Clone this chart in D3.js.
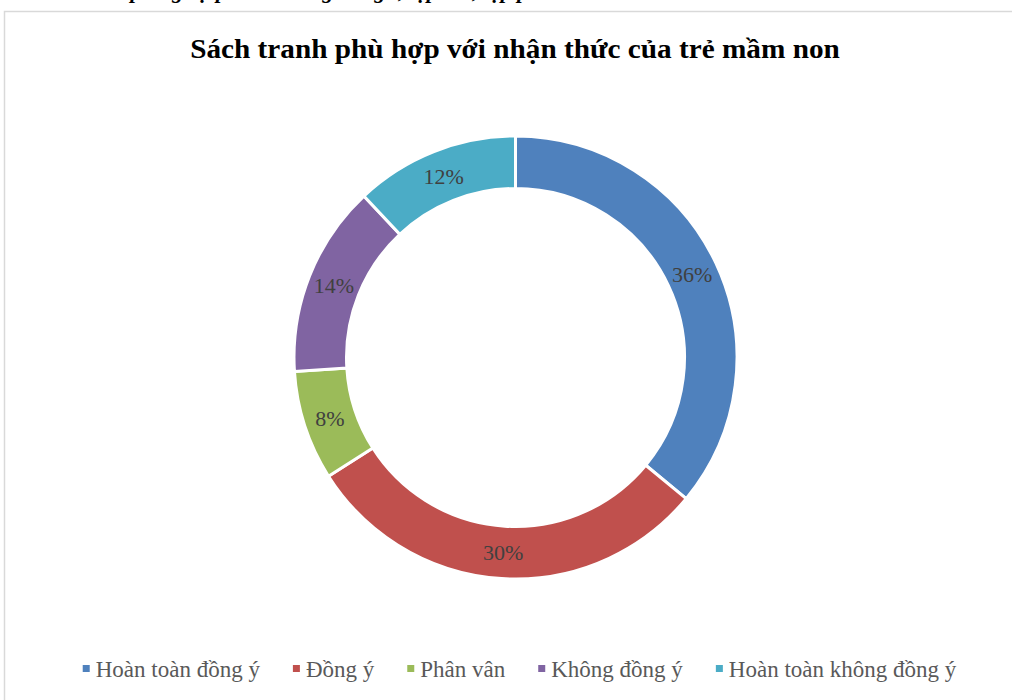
<!DOCTYPE html>
<html lang="vi">
<head>
<meta charset="utf-8">
<script src="https://cdn.jsdelivr.net/npm/d3@7/dist/d3.min.js"></script>
<style>
  html, body { margin: 0; padding: 0; background: #fff; }
  svg { display: block; }
</style>
</head>
<body>
<svg id="chart" width="1012" height="700"></svg>
<script>
// Survey answers and their shares (%)
const categories = ["Hoàn toàn đồng ý", "Đồng ý", "Phân vân", "Không đồng ý", "Hoàn toàn không đồng ý"];
const values = [36, 30, 8, 14, 12];
const colors = ["#4F81BD", "#C0504D", "#9BBB59", "#8064A2", "#4BACC6"];
const title = "Sách tranh phù hợp với nhận thức của trẻ mầm non";
const caption = "Sách tranh đáp ứng sự phát triển ngôn ngữ, tập nói, tập phát âm của trẻ mầm non";

const svg = d3.select("#chart");
const W = 1012, H = 700;

// Caption line of the surrounding document, running off the top edge
svg.append("text")
  .attr("x", 2).attr("y", -2)
  .attr("font-family", "'Liberation Serif', 'Times New Roman', serif")
  .attr("font-size", 22).attr("font-weight", "bold").attr("font-style", "italic")
  .attr("fill", "#000")
  .text(caption);

// Chart area frame
svg.append("rect")
  .attr("x", 4.5).attr("y", 11.5)
  .attr("width", W + 20).attr("height", H + 20)
  .attr("fill", "#fff")
  .attr("stroke", "#D9D9D9").attr("stroke-width", 1.5);

// Title
const titleText = svg.append("text")
  .attr("x", 515).attr("y", 58)
  .attr("text-anchor", "middle")
  .attr("font-family", "'Liberation Serif', 'Times New Roman', serif")
  .attr("font-size", 27).attr("font-weight", "bold")
  .attr("fill", "#000")
  .text(title);
const tw = titleText.node().getComputedTextLength();
titleText.attr("transform", `translate(515,0) scale(${650 / tw},1) translate(-515,0)`);

// Doughnut
const cx = 515.5, cy = 357.5, rOuter = 221.5, rInner = 169;
const pie = d3.pie().sort(null).value(d => d.value).startAngle(0).endAngle(2 * Math.PI);
const data = categories.map((c, i) => ({ name: c, value: values[i], color: colors[i] }));
const arcs = pie(data);
const arc = d3.arc().innerRadius(rInner).outerRadius(rOuter);
const labelArc = d3.arc().innerRadius((rInner + rOuter) / 2).outerRadius((rInner + rOuter) / 2);
const total = d3.sum(values);

const g = svg.append("g").attr("transform", `translate(${cx},${cy})`);
g.selectAll("path.slice")
  .data(arcs)
  .join("path")
  .attr("class", "slice")
  .attr("d", arc)
  .attr("fill", d => d.data.color)
  .attr("stroke", "#fff")
  .attr("stroke-width", 3)
  .attr("stroke-linejoin", "miter");

g.selectAll("text.pct")
  .data(arcs)
  .join("text")
  .attr("class", "pct")
  .attr("transform", d => `translate(${labelArc.centroid(d)})`)
  .attr("text-anchor", "middle")
  .attr("dy", "0.35em")
  .attr("font-family", "'Liberation Serif', 'Times New Roman', serif")
  .attr("font-size", 22)
  .attr("fill", "#404040")
  .text(d => Math.round(d.data.value / total * 100) + "%");

// Legend
const legend = svg.append("g");
const fontLeg = 23, marker = 7, gapMarker = 6, gapItem = 33;
const items = legend.selectAll("g.item").data(data).join("g").attr("class", "item");
items.append("rect")
  .attr("width", marker).attr("height", marker)
  .attr("y", -marker / 2 - 0.5)
  .attr("fill", d => d.color);
items.append("text")
  .attr("x", marker + gapMarker)
  .attr("dy", "0.33em")
  .attr("font-family", "'Liberation Serif', 'Times New Roman', serif")
  .attr("font-size", fontLeg)
  .attr("fill", "#595959")
  .text(d => d.name);
const widths = [];
items.each(function () {
  const w = d3.select(this).select("text").node().getComputedTextLength() + marker + gapMarker;
  widths.push(w);
});
const totalW = d3.sum(widths) + gapItem * (widths.length - 1);
let startX = 519.5 - totalW / 2;
items.attr("transform", (d, i) => {
  const t = `translate(${startX},669)`;
  startX += widths[i] + gapItem;
  return t;
});
</script>
</body>
</html>
